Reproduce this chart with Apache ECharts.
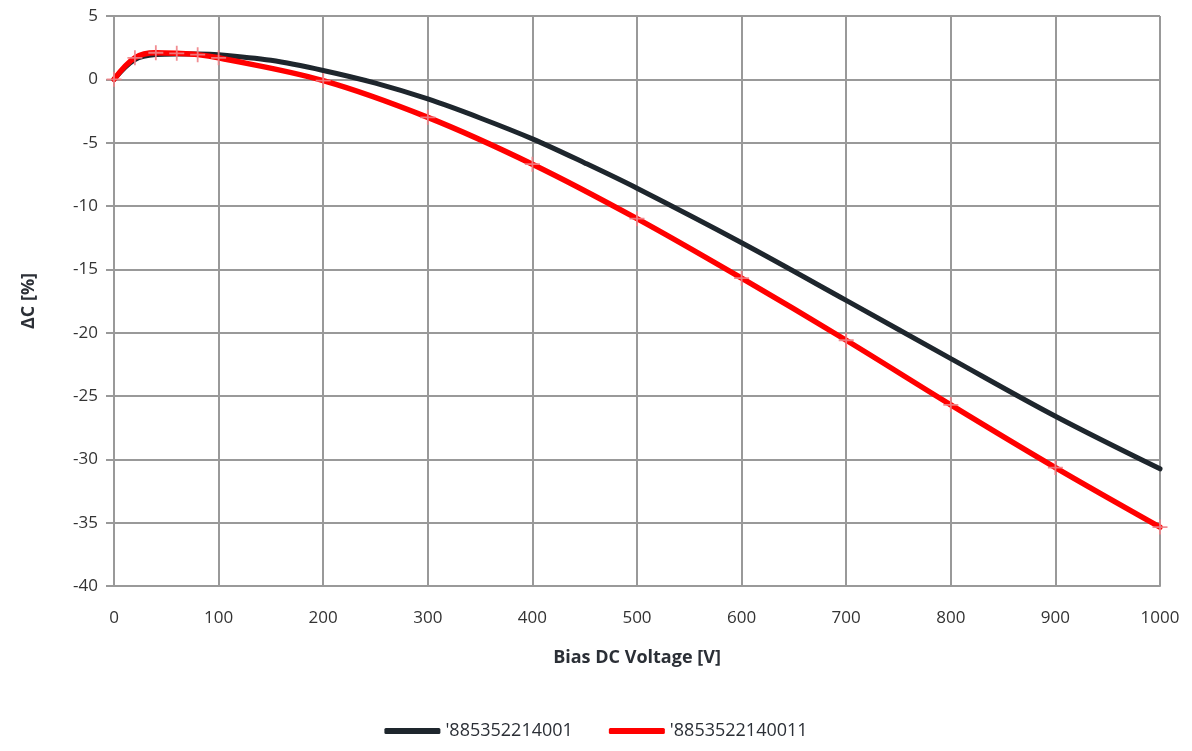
<!DOCTYPE html>
<html>
<head>
<meta charset="utf-8">
<title>Bias DC Voltage</title>
<script src="https://cdn.jsdelivr.net/npm/echarts@6/dist/echarts.min.js"></script>
<style>
  html, body { margin: 0; padding: 0; background: #fff; }
  #chart { width: 1192px; height: 751px; }
</style>
</head>
<body>
<div id="chart"></div>
<script>
// data
const seriesNames = ["'885352214001", "'8853522140011"];

const voltBlack = [0, 20, 40, 60, 80, 100, 150, 200, 250, 300, 350, 400, 450, 500, 600, 700, 800, 900, 1000];
const deltaBlack = [0, 1.55, 1.95, 2.0, 2.0, 1.95, 1.5, 0.7, -0.3, -1.55, -3.05, -4.7, -6.6, -8.6, -12.9, -17.45, -22.05, -26.6, -30.75];

const voltRed = [0, 20, 40, 60, 80, 100, 200, 300, 400, 500, 600, 700, 800, 900, 1000];
const deltaRed = [0, 1.7, 2.1, 2.05, 1.95, 1.7, -0.1, -3.0, -6.7, -11.0, -15.7, -20.6, -25.7, -30.65, -35.35];

const xTicks = [0, 100, 200, 300, 400, 500, 600, 700, 800, 900, 1000];
const yTicks = [5, 0, -5, -10, -15, -20, -25, -30, -35, -40];

function pairs(xs, ys) {
    return xs.map((x, i) => [x, ys[i]]);
}

const fontFam = '"Open Sans", "Noto Sans", sans-serif';
const plusPath = 'path://M4.4,0 L5.6,0 L5.6,4.4 L10,4.4 L10,5.6 L5.6,5.6 L5.6,10 L4.4,10 L4.4,5.6 L0,5.6 L0,4.4 L4.4,4.4 Z';

const myChart = echarts.init(document.getElementById('chart'));

const option = {
    animation: false,
    grid: { left: 114, right: 32, top: 16, bottom: 165 },
    xAxis: {
        type: 'value',
        min: xTicks[0],
        max: xTicks[xTicks.length - 1],
        interval: 100,
        name: 'Bias DC Voltage [V]',
        nameLocation: 'middle',
        nameGap: 63,
        nameTextStyle: { fontFamily: fontFam, fontSize: 18, fontWeight: 'bold', color: '#2b2f36' },
        axisLine: { show: true, onZero: false, lineStyle: { color: '#999', width: 2 } },
        axisTick: { show: false },
        axisLabel: { fontFamily: fontFam, fontSize: 17, color: '#333', margin: 24, formatter: v => String(v) },
        splitLine: { show: true, lineStyle: { color: '#999', width: 2 } }
    },
    yAxis: {
        type: 'value',
        min: yTicks[yTicks.length - 1],
        max: yTicks[0],
        interval: 5,
        name: 'ΔC [%]',
        nameLocation: 'middle',
        nameGap: 76,
        nameTextStyle: { fontFamily: fontFam, fontSize: 18, fontWeight: 'bold', color: '#2b2f36' },
        axisLine: { show: true, onZero: false, lineStyle: { color: '#999', width: 2 } },
        axisTick: { show: true, inside: false, length: 8, lineStyle: { color: '#999', width: 2 } },
        axisLabel: {
            fontFamily: fontFam, fontSize: 17, color: '#333', margin: 16,
            formatter: v => (v < 0 ? '-' + Math.abs(v) : String(v))
        },
        splitLine: { show: true, lineStyle: { color: '#999', width: 2 } }
    },
    legend: {
        bottom: 6,
        left: 'center',
        itemWidth: 56,
        itemHeight: 6,
        itemGap: 36,
        textStyle: { fontFamily: fontFam, fontSize: 18, color: '#2b2f36' },
        data: [
            { name: seriesNames[0], icon: 'roundRect', itemStyle: { color: '#1e262d' } },
            { name: seriesNames[1], icon: 'roundRect', itemStyle: { color: '#ff0000' } }
        ]
    },
    series: [
        {
            name: seriesNames[0],
            type: 'line',
            smooth: 0.35,
            showSymbol: false,
            symbol: 'none',
            lineStyle: { color: '#1e262d', width: 5, cap: 'round' },
            itemStyle: { color: '#1e262d' },
            data: pairs(voltBlack, deltaBlack),
            z: 2
        },
        {
            name: seriesNames[1],
            type: 'line',
            smooth: 0.35,
            symbol: plusPath,
            symbolSize: 15,
            showSymbol: true,
            lineStyle: { color: '#ff0000', width: 5.5, cap: 'round' },
            itemStyle: { color: 'rgba(240, 130, 135, 0.9)', borderWidth: 0 },
            data: pairs(voltRed, deltaRed),
            z: 3
        }
    ]
};

myChart.setOption(option);

window.addEventListener('resize', function() {
    myChart.resize();
});
</script>
</body>
</html>
